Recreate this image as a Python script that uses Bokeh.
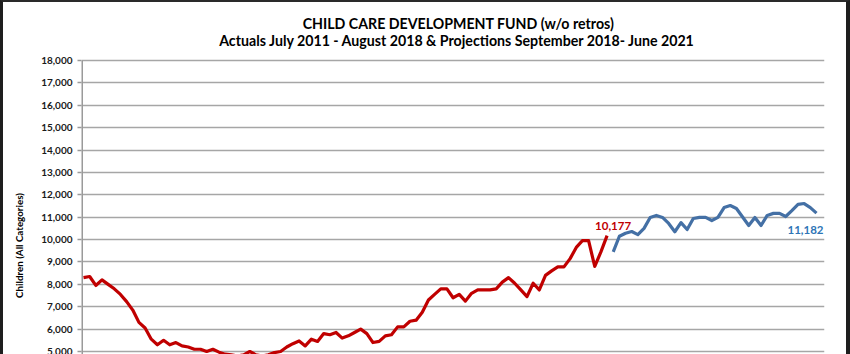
import math
from bokeh.plotting import figure
from bokeh.layouts import row
from bokeh.models import Range1d, LinearAxis, FixedTicker, NumeralTickFormatter, Label
from bokeh.embed import file_html
from bokeh.resources import INLINE

# Actuals: July 2011 - August 2018 (86 months)
actual = [8300, 8350, 7950, 8200, 8000, 7800, 7550, 7230, 6850, 6300,
          6050, 5550, 5300, 5500, 5300, 5400, 5250, 5200, 5100, 5100,
          5000, 5100, 4970, 4880, 4850, 4800, 4850, 5000, 4850, 4800,
          4850, 4950, 5000, 5200, 5350, 5470, 5250, 5550, 5450, 5800,
          5750, 5850, 5600, 5700, 5850, 6000, 5800, 5400, 5450, 5700,
          5750, 6100, 6100, 6350, 6400, 6750, 7300, 7550, 7800, 7800,
          7400, 7550, 7250, 7600, 7750, 7750, 7750, 7800, 8100, 8300,
          8050, 7750, 7450, 8050, 7750, 8400, 8600, 8780, 8780, 9150,
          9650, 9950, 9950, 8800, 9450, 10177]
# Projections: September 2018 - June 2021 (34 months)
projected = [9450, 10150, 10280, 10360, 10220, 10500, 10990, 11080, 10990, 10720,
             10350, 10760, 10450, 10940, 10990, 10990, 10850, 10990, 11430, 11520,
             11390, 11010, 10630, 10990, 10630, 11080, 11170, 11170, 11030, 11290,
             11570, 11610, 11430, 11182]
y_ticks = list(range(0, 18001, 1000))

title1 = "CHILD CARE DEVELOPMENT FUND (w/o retros)"
title2 = "Actuals July 2011 - August 2018 & Projections September 2018- June 2021"
y_label = "Children (All Categories)"

RED = "#C00000"
BLUE = "#4470A5"
BLUE_TXT = "#2E75B6"
FONT = "Lato"

# page geometry: CSS border left 3, top 2, right 4
BL, BT, BR = 3, 2, 4
H = 354 - BT
LW = 28                       # width of the narrow strip holding the y-axis title
OX = BL + LW                  # page x of main figure's canvas left
W = 850 - BR - OX
FL, FR = 81 - OX, 824 - OX    # frame in main canvas
n_total = len(actual) + len(projected)
px_first, px_last = 83.0 - OX, 816.0 - OX
step = (px_last - px_first) / (n_total - 1)
x_start = -(px_first - FL) / step
x_end = (n_total - 1) + (FR - px_last) / step
py_per = (351 - 60) / 13000.0
y_end = 18000.0 + (60 - BT) / py_per
y_start = 5000.0 - (H - (351 - BT)) / py_per

def dx(page_px):
    return x_start + (page_px - OX - FL) / step

def dy(page_py):
    return y_end - (page_py - BT) / py_per

# narrow strip with the rotated y-axis title
side = figure(width=LW, height=H, output_backend="svg", toolbar_location=None,
              x_range=Range1d(BL, BL + LW), y_range=Range1d(354, BT),
              x_axis_location=None, y_axis_location=None,
              min_border_left=0, min_border_right=0, min_border_top=0, min_border_bottom=0)
side.outline_line_color = None
side.grid.visible = False
side.border_fill_color = "white"
side.add_layout(Label(x=18, y=245, text=y_label, angle=math.pi / 2, text_align="center",
                      text_baseline="middle", text_font=FONT, text_font_style="bold",
                      text_font_size="9.8px", text_color="black"))

p = figure(width=W, height=H, output_backend="svg", toolbar_location=None,
           x_range=Range1d(x_start, x_end), y_range=Range1d(y_start, y_end),
           x_axis_location=None, y_axis_location=None,
           min_border_left=FL, min_border_right=W - FR, min_border_top=0, min_border_bottom=0)
p.outline_line_color = None
p.background_fill_color = "white"
p.border_fill_color = "white"

yaxis = LinearAxis(ticker=FixedTicker(ticks=y_ticks), formatter=NumeralTickFormatter(format="0,0"))
yaxis.axis_line_color = None
yaxis.major_tick_line_color = "#9A9A9A"
yaxis.major_tick_line_width = 1.5
yaxis.major_tick_out = 4
yaxis.major_tick_in = 0
yaxis.minor_tick_line_color = None
yaxis.major_label_standoff = 5
yaxis.major_label_text_font = FONT
yaxis.major_label_text_font_style = "bold"
yaxis.major_label_text_font_size = "10px"
yaxis.major_label_text_color = "#1a1a1a"
p.add_layout(yaxis, "left")

p.ygrid.ticker = FixedTicker(ticks=y_ticks)
p.ygrid.grid_line_color = "#A6A6A6"
p.ygrid.grid_line_width = 1.5
p.xgrid.visible = False

# visible axis line from the bottom up to the top tick
p.segment(x0=[x_start], y0=[y_start], x1=[x_start], y1=[max(y_ticks)], line_color="#9A9A9A", line_width=3)

xa = list(range(len(actual)))
xp = list(range(len(actual), n_total))
p.line(xa, actual, line_color=RED, line_width=3.2, line_join="round")
p.line(xp, projected, line_color=BLUE, line_width=3.2, line_join="round")

p.add_layout(Label(x=xa[-1], y=actual[-1], text=f"{actual[-1]:,}", x_offset=6, y_offset=10,
                   text_align="center", text_baseline="middle", text_color=RED,
                   text_font=FONT, text_font_style="bold", text_font_size="11.5px"))
p.add_layout(Label(x=xp[-1], y=projected[-1], text=f"{projected[-1]:,}", x_offset=-11, y_offset=-17,
                   text_align="center", text_baseline="middle", text_color=BLUE_TXT,
                   text_font=FONT, text_font_style="bold", text_font_size="11.5px"))

p.add_layout(Label(x=dx(458), y=dy(23), text=title1, text_align="center", text_baseline="middle",
                   text_font=FONT, text_font_style="bold", text_font_size="14.2px", text_color="black"))
p.add_layout(Label(x=dx(457), y=dy(40), text=title2, text_align="center", text_baseline="middle",
                   text_font=FONT, text_font_style="bold", text_font_size="14.2px", text_color="black"))

layout = row(side, p, spacing=0)
layout.styles = {"box-sizing": "content-box", "background-color": "white",
                 "border-left": f"{BL}px solid #1E1E1E", "border-top": f"{BT}px solid #2A2A2A",
                 "border-right": f"{BR}px solid #1E1E1E"}

open("out.html", "w").write(file_html(layout, INLINE))
